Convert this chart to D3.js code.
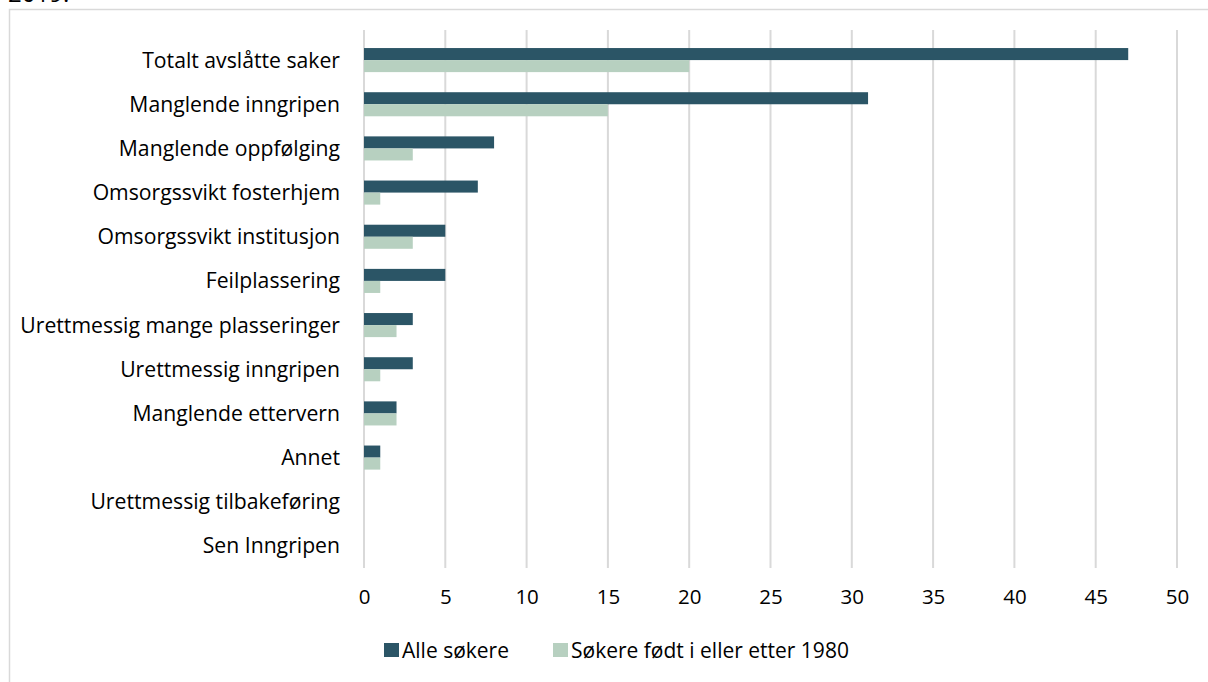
<!DOCTYPE html>
<html><head><meta charset="utf-8">
<script src="https://cdn.jsdelivr.net/npm/d3@7"></script>
<style>body{margin:0;background:#fff}svg{display:block}text{font-family:"Open Sans",sans-serif;fill:#000}</style>
</head><body><svg id="c" width="1208" height="682"></svg>
<script>
const categories=["Totalt avslåtte saker","Manglende inngripen","Manglende oppfølging","Omsorgssvikt fosterhjem","Omsorgssvikt institusjon","Feilplassering","Urettmessig mange plasseringer","Urettmessig inngripen","Manglende ettervern","Annet","Urettmessig tilbakeføring","Sen Inngripen"];
const alle=[47,31,8,7,5,5,3,3,2,1,0,0];
const yngre=[20,15,3,1,3,1,2,1,2,1,0,0];
const seriesNames=["Alle søkere","Søkere født i eller etter 1980"];
const colors=["#2B5566","#B7D0C0"];
const ticks=[0,5,10,15,20,25,30,35,40,45,50];

const svg=d3.select("#c");
svg.append("text").attr("x",8).attr("y",2).attr("font-size",24).text("2019.");
svg.append("rect").attr("x",9.5).attr("y",9.5).attr("width",1250).attr("height",700).attr("fill","none").attr("stroke","#d9d9d9").attr("stroke-width",1.5);

const x=d3.scaleLinear().domain([0,50]).range([364,1177]);
const y=d3.scaleBand().domain(categories).range([38,568]).paddingInner(0.455).paddingOuter(0.2275);
const g=svg.append("g");
g.selectAll("line.grid").data(ticks).join("line").attr("x1",d=>x(d)).attr("x2",d=>x(d)).attr("y1",30).attr("y2",568).attr("stroke","#d9d9d9").attr("stroke-width",2);
const sub=d3.scaleBand().domain([0,1]).range([0,y.bandwidth()]);
const data=[alle,yngre];
data.forEach((arr,si)=>{
  g.selectAll("rect.s"+si).data(arr).join("rect").attr("x",x(0)).attr("y",(d,i)=>y(categories[i])+sub(si)).attr("width",d=>x(d)-x(0)).attr("height",sub.bandwidth()).attr("fill",colors[si]);
});
g.selectAll("text.cat").data(categories).join("text").attr("x",340).attr("y",d=>y(d)+y.bandwidth()/2).attr("dy","0.35em").attr("text-anchor","end").attr("font-size",21.2).text(d=>d);
const ax=svg.append("g").attr("transform","translate(0,568)").call(d3.axisBottom(x).tickValues(ticks).tickSize(0).tickPadding(21));
ax.select(".domain").remove();
ax.selectAll("text").attr("font-size",20.5).style("font-family","'Open Sans',sans-serif").attr("fill","#000");
const leg=svg.append("g");
const lx=[384,553];
seriesNames.forEach((n,i)=>{
  leg.append("rect").attr("x",lx[i]).attr("y",643).attr("width",15).attr("height",14).attr("fill",colors[i]);
  leg.append("text").attr("x",lx[i]+18).attr("y",651).attr("dy","0.35em").attr("font-size",21).text(n);
});
</script></body></html>
